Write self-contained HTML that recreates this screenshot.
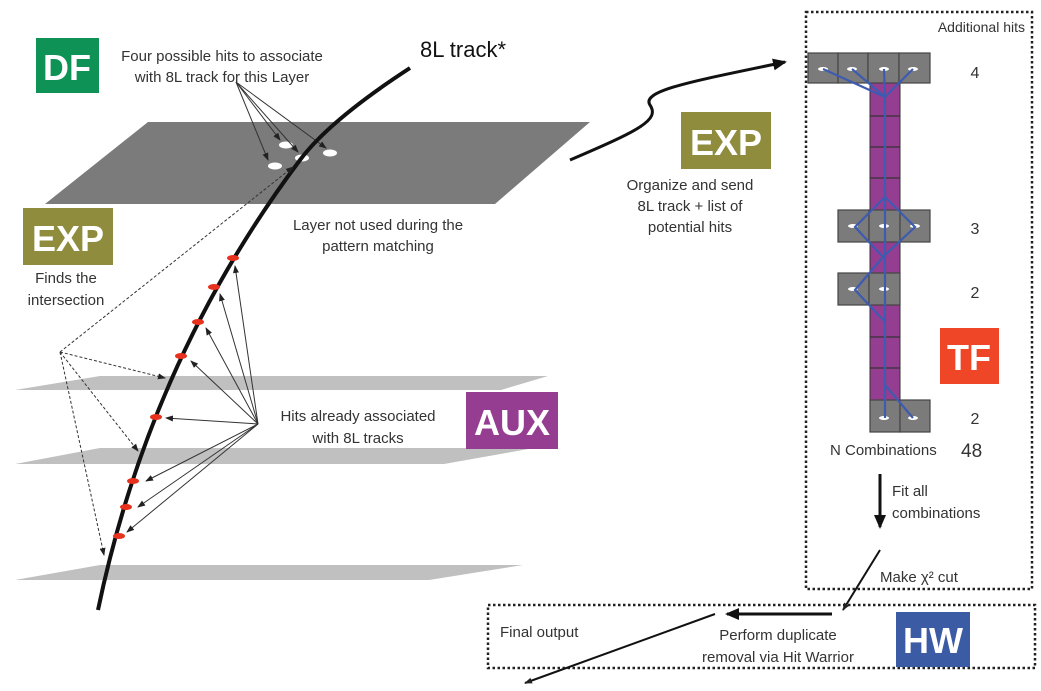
<!DOCTYPE html>
<html><head><meta charset="utf-8"><style>
body{margin:0;background:#fff;}
svg{display:block;font-family:"Liberation Sans",sans-serif;}
</style></head><body>
<svg width="1041" height="691" viewBox="0 0 1041 691">
<defs>
<marker id="a" markerWidth="8" markerHeight="8" refX="7" refY="4" orient="auto" markerUnits="userSpaceOnUse"><path d="M0,1 L8,4 L0,7 Z" fill="#222"/></marker>
<marker id="b" markerWidth="14" markerHeight="12" refX="12" refY="6" orient="auto" markerUnits="userSpaceOnUse"><path d="M0,0 L14,6 L0,12 Z" fill="#111"/></marker>
</defs>
<!-- planes -->
<polygon points="148,122 590,122 495,204 45,204" fill="#7a7b7a"/>
<polygon points="100,376 548,376 501,390 15,390" fill="#c0c0c0"/>
<polygon points="100,448 534,448 444,464 15,464" fill="#c0c0c0"/>
<polygon points="100,565 523,565 429,580 15,580" fill="#c0c0c0"/>
<!-- white hits -->
<g fill="#fff"><ellipse cx="275" cy="166" rx="7" ry="3.5"/><ellipse cx="286" cy="145" rx="7" ry="3.5"/><ellipse cx="302" cy="158" rx="7" ry="3.5"/><ellipse cx="330" cy="153" rx="7" ry="3.5"/></g>
<!-- arrows from label -->
<g stroke="#333" stroke-width="1" marker-end="url(#a)">
<line x1="236" y1="82" x2="268" y2="160"/><line x1="236" y1="82" x2="280" y2="140"/><line x1="236" y1="82" x2="298" y2="152"/><line x1="236" y1="82" x2="326" y2="148"/>
</g>
<!-- track -->
<path d="M410,68 Q330,120 300,160 Q150,360 98,610" fill="none" stroke="#111" stroke-width="4"/>
<!-- red hits -->
<g fill="#e8321e">
<ellipse cx="233" cy="258" rx="6" ry="3"/><ellipse cx="214" cy="287" rx="6" ry="3"/><ellipse cx="198" cy="322" rx="6" ry="3"/><ellipse cx="181" cy="356" rx="6" ry="3"/><ellipse cx="156" cy="417" rx="6" ry="3"/><ellipse cx="133" cy="481" rx="6" ry="3"/><ellipse cx="126" cy="507" rx="6" ry="3"/><ellipse cx="119" cy="536" rx="6" ry="3"/>
</g>
<g stroke="#333" stroke-width="1" marker-end="url(#a)">
<line x1="258" y1="424" x2="235" y2="266"/><line x1="258" y1="424" x2="220" y2="294"/><line x1="258" y1="424" x2="206" y2="328"/><line x1="258" y1="424" x2="191" y2="361"/><line x1="258" y1="424" x2="166" y2="418"/><line x1="258" y1="424" x2="146" y2="481"/><line x1="258" y1="424" x2="138" y2="507"/><line x1="258" y1="424" x2="127" y2="532"/>
</g>
<g stroke="#333" stroke-width="1" stroke-dasharray="3,2" fill="none" marker-end="url(#a)">
<line x1="60" y1="352" x2="293" y2="167"/><line x1="60" y1="352" x2="165" y2="378"/><line x1="60" y1="352" x2="138" y2="451"/><line x1="60" y1="352" x2="104" y2="555"/>
</g>
<!-- labels left -->
<rect x="36" y="38" width="63" height="55" fill="#0e9256"/>
<text x="67" y="80" font-size="36" font-weight="bold" fill="#fff" text-anchor="middle">DF</text>
<text x="222" y="61" font-size="15" fill="#333" text-anchor="middle">Four possible hits to associate</text>
<text x="222" y="82" font-size="15" fill="#333" text-anchor="middle">with 8L track for this Layer</text>
<text x="420" y="57" font-size="22" fill="#111">8L track*</text>
<rect x="23" y="208" width="90" height="57" fill="#8f8c3e"/>
<text x="68" y="251" font-size="36" font-weight="bold" fill="#fff" text-anchor="middle">EXP</text>
<text x="66" y="283" font-size="15" fill="#333" text-anchor="middle">Finds the</text>
<text x="66" y="305" font-size="15" fill="#333" text-anchor="middle">intersection</text>
<text x="378" y="230" font-size="15" fill="#333" text-anchor="middle">Layer not used during the</text>
<text x="378" y="251" font-size="15" fill="#333" text-anchor="middle">pattern matching</text>
<text x="358" y="421" font-size="15" fill="#333" text-anchor="middle">Hits already associated</text>
<text x="358" y="443" font-size="15" fill="#333" text-anchor="middle">with 8L tracks</text>
<rect x="466" y="392" width="92" height="57" fill="#953e91"/>
<text x="512" y="435" font-size="36" font-weight="bold" fill="#fff" text-anchor="middle">AUX</text>
<!-- middle -->
<path d="M570,160 C640,130 660,120 650,105 C640,90 700,80 785,62" fill="none" stroke="#111" stroke-width="3" marker-end="url(#b)"/>
<rect x="681" y="112" width="90" height="57" fill="#8f8c3e"/>
<text x="726" y="155" font-size="36" font-weight="bold" fill="#fff" text-anchor="middle">EXP</text>
<text x="690" y="190" font-size="15" fill="#333" text-anchor="middle">Organize and send</text>
<text x="690" y="211" font-size="15" fill="#333" text-anchor="middle">8L track + list of</text>
<text x="690" y="232" font-size="15" fill="#333" text-anchor="middle">potential hits</text>
<!-- right dotted box -->
<rect x="806" y="12" width="226" height="577" fill="none" stroke="#222" stroke-width="2.5" stroke-dasharray="2.5,2.5"/>
<text x="1025" y="32" font-size="14" fill="#333" text-anchor="end">Additional hits</text>
<!-- purple column -->
<rect x="870" y="83" width="30" height="317" fill="#953e91" stroke="#333"/>
<g stroke="#333" stroke-width="1.2">
<line x1="870" y1="116" x2="900" y2="116"/><line x1="870" y1="147" x2="900" y2="147"/><line x1="870" y1="178" x2="900" y2="178"/><line x1="870" y1="337" x2="900" y2="337"/><line x1="870" y1="368" x2="900" y2="368"/>
</g>
<g fill="#7a7b7a" stroke="#444" stroke-width="1.2">
<rect x="808" y="53" width="30" height="30"/><rect x="838" y="53" width="30" height="30"/><rect x="868" y="53" width="31" height="30"/><rect x="899" y="53" width="31" height="30"/>
<rect x="838" y="210" width="31" height="32"/><rect x="869" y="210" width="31" height="32"/><rect x="900" y="210" width="30" height="32"/>
<rect x="838" y="273" width="31" height="32"/><rect x="869" y="273" width="31" height="32"/>
<rect x="870" y="400" width="30" height="32"/><rect x="900" y="400" width="30" height="32"/>
</g>
<g fill="#fff"><ellipse cx="823" cy="69" rx="5" ry="2"/><ellipse cx="852" cy="69" rx="5" ry="2"/><ellipse cx="884" cy="69" rx="5" ry="2"/><ellipse cx="913" cy="69" rx="5" ry="2"/>
<ellipse cx="853" cy="226" rx="5" ry="2"/><ellipse cx="884" cy="226" rx="5" ry="2"/><ellipse cx="915" cy="226" rx="5" ry="2"/>
<ellipse cx="853" cy="289" rx="5" ry="2"/><ellipse cx="884" cy="289" rx="5" ry="2"/>
<ellipse cx="884" cy="418" rx="5" ry="2"/><ellipse cx="913" cy="418" rx="5" ry="2"/></g>
<g stroke="#3d5bb0" stroke-width="2.2" fill="none">
<polyline points="823,69 885,97 852,69"/><line x1="884" y1="69" x2="885" y2="97"/><line x1="913" y1="69" x2="885" y2="97"/>
<line x1="885" y1="97" x2="885" y2="418"/>
<polygon points="885,197 855,227 883,257 915,227"/>
<polyline points="883,257 855,290 885,322"/>
<line x1="885" y1="385" x2="913" y2="418"/>
</g>
<text x="975" y="78" font-size="16" fill="#333" text-anchor="middle">4</text>
<text x="975" y="234" font-size="16" fill="#333" text-anchor="middle">3</text>
<text x="975" y="298" font-size="16" fill="#333" text-anchor="middle">2</text>
<text x="975" y="424" font-size="16" fill="#333" text-anchor="middle">2</text>
<rect x="940" y="328" width="59" height="56" fill="#f04628"/>
<text x="969" y="370" font-size="36" font-weight="bold" fill="#fff" text-anchor="middle">TF</text>
<text x="830" y="455" font-size="15" fill="#333">N Combinations</text><text x="961" y="457" font-size="19" fill="#333">48</text>
<line x1="880" y1="474" x2="880" y2="527" stroke="#111" stroke-width="3" marker-end="url(#b)"/>
<text x="892" y="496" font-size="15" fill="#333">Fit all</text>
<text x="892" y="518" font-size="15" fill="#333">combinations</text>
<text x="880" y="582" font-size="15" fill="#333">Make χ² cut</text>
<line x1="880" y1="550" x2="843" y2="610" stroke="#111" stroke-width="2" marker-end="url(#a)"/>
<!-- HW box -->
<rect x="488" y="605" width="547" height="63" fill="none" stroke="#222" stroke-width="2.5" stroke-dasharray="2.5,2.5"/>
<rect x="896" y="612" width="74" height="55" fill="#3b5ba5"/>
<text x="933" y="653" font-size="36" font-weight="bold" fill="#fff" text-anchor="middle">HW</text>
<text x="778" y="640" font-size="15" fill="#333" text-anchor="middle">Perform duplicate</text>
<text x="778" y="662" font-size="15" fill="#333" text-anchor="middle">removal via Hit Warrior</text>
<text x="500" y="637" font-size="15" fill="#333">Final output</text>
<line x1="832" y1="614" x2="727" y2="614" stroke="#111" stroke-width="3" marker-end="url(#b)"/>
<line x1="715" y1="614" x2="525" y2="683" stroke="#111" stroke-width="2" marker-end="url(#a)"/>
</svg>
</body></html>
